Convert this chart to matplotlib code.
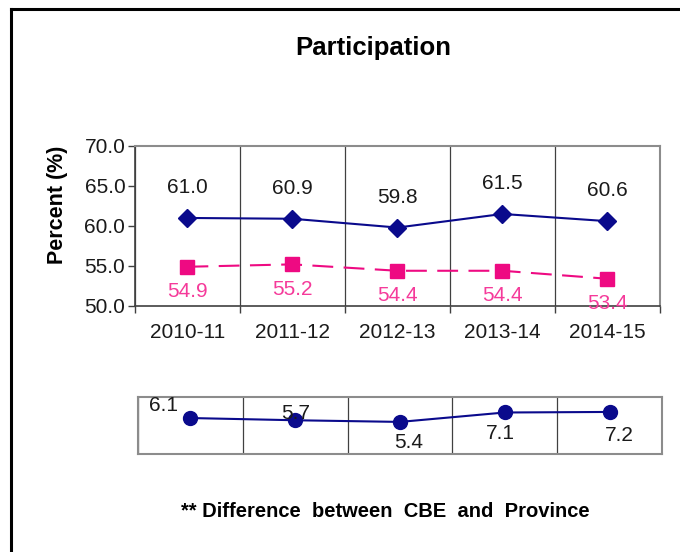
import numpy as np
from matplotlib import pyplot as plt
from matplotlib.lines import Line2D

# Data
years = ["2010-11", "2011-12", "2012-13", "2013-14", "2014-15"]
cbe = [61.0, 60.9, 59.8, 61.5, 60.6]
province = [54.9, 55.2, 54.4, 54.4, 53.4]
difference = [6.1, 5.7, 5.4, 7.1, 7.2]

# label offsets for the difference panel (points), as placed in the original
diff_offsets = [(-19, 9), (0, 5), (6, -15), (-3, -15), (7, -17)]

NAVY = "#0a0a8c"
PINK = "#ee0a82"
PINK_TXT = "#f53a9a"


def style_grid(ax):
    x = np.arange(len(years))
    ax.set_xlim(-0.5, len(years) - 0.5)
    ax.set_xticks(x)
    ax.set_xticks(np.arange(-0.5, len(years)), minor=True)
    ax.grid(which="minor", axis="x", color="#404040", linewidth=0.9)
    ax.set_axisbelow(True)


def main():
    plt.rcParams["font.family"] = ["Liberation Sans", "DejaVu Sans"]
    fig = plt.figure(figsize=(6.8, 5.52), dpi=100)
    x = np.arange(len(years))

    # Main panel
    ax = fig.add_axes([0.1985, 0.4457, 0.772, 0.2899])
    style_grid(ax)
    ax.plot(x, cbe, color=NAVY, linewidth=1.5, marker="D", markersize=9, zorder=3)
    ax.plot(x, province, color=PINK, linewidth=1.5, dashes=(10, 5), marker="s",
            markersize=10, zorder=3)
    for xi, v in zip(x, cbe):
        ax.annotate(f"{v:.1f}", (xi, v), xytext=(0, 22), textcoords="offset points",
                    ha="center", va="center", fontsize=15, color="#1a1a1a")
    for xi, v in zip(x, province):
        ax.annotate(f"{v:.1f}", (xi, v), xytext=(0, -18), textcoords="offset points",
                    ha="center", va="center", fontsize=15, color=PINK_TXT, zorder=5,
                    annotation_clip=False)
    ax.set_ylim(50, 70)
    ax.set_yticks([50, 55, 60, 65, 70])
    ax.set_yticklabels([f"{t:.1f}" for t in [50, 55, 60, 65, 70]])
    ax.set_xticklabels(years)
    ax.tick_params(axis="x", which="major", length=0, labelsize=15, pad=12, colors="#1a1a1a")
    ax.tick_params(axis="x", which="minor", length=5, width=1, color="#404040")
    ax.tick_params(axis="y", length=5, width=1, color="#404040", labelsize=15, pad=2,
                   labelcolor="#1a1a1a")
    for s in ["left", "bottom"]:
        ax.spines[s].set_color("#404040")
        ax.spines[s].set_linewidth(1.2)
    for s in ["top", "right"]:
        ax.spines[s].set_color("#8c8c8c")
        ax.spines[s].set_linewidth(1.5)

    fig.text(0.085, 0.629, "Percent (%)", rotation=90, ha="center", va="center",
             fontsize=15.5, fontweight="bold")

    # Difference panel
    ax2 = fig.add_axes([0.2029, 0.1775, 0.7706, 0.1033])
    style_grid(ax2)
    ax2.plot(x, difference, color=NAVY, linewidth=1.5, marker="o", markersize=10, zorder=3)
    for xi, v, off in zip(x, difference, diff_offsets):
        ax2.annotate(f"{v:.1f}", (xi, v), xytext=off, textcoords="offset points",
                     ha="center", va="center", fontsize=15, color="#1a1a1a", zorder=5)
    ax2.set_ylim(-0.4, 9.9)
    ax2.set_yticks([])
    ax2.tick_params(axis="x", which="both", length=0, labelbottom=False)
    for s in ax2.spines.values():
        s.set_color("#8c8c8c")
        s.set_linewidth(1.5)

    fig.text(0.549, 0.913, "Participation", ha="center", va="center",
             fontsize=18.5, fontweight="bold")
    fig.text(0.566, 0.0725, "** Difference  between  CBE  and  Province", ha="center",
             va="center", fontsize=14.5, fontweight="bold")

    # outer frame (only top and left edges show)
    fig.add_artist(Line2D([0.0162, 1.0], [0.9837, 0.9837], transform=fig.transFigure,
                          color="black", linewidth=2.2))
    fig.add_artist(Line2D([0.0162, 0.0162], [0.0, 0.9837], transform=fig.transFigure,
                          color="black", linewidth=2.2))

    plt.savefig("out.png", dpi=100)
    plt.close()


if __name__ == "__main__":
    main()
